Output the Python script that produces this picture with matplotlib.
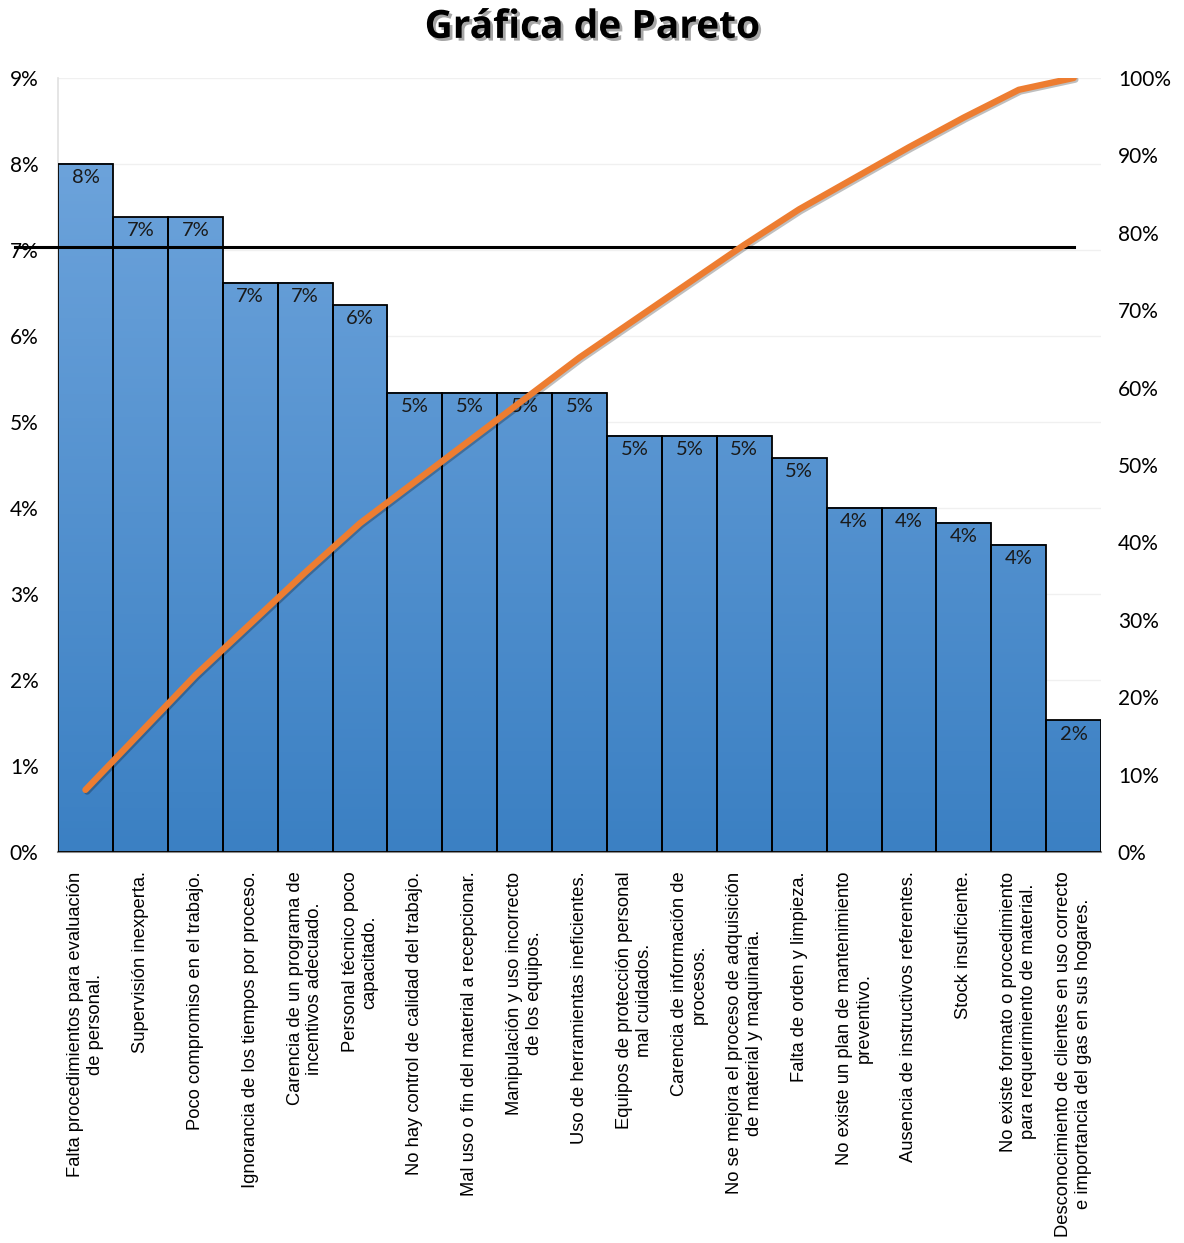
"""Pareto chart of causes (Gráfica de Pareto)."""

import matplotlib

matplotlib.use("Agg")
import matplotlib.pyplot as plt
import matplotlib.patheffects as pe
import numpy as np
from matplotlib.colors import LinearSegmentedColormap
from matplotlib.ticker import FuncFormatter, MultipleLocator

causes = [
    "Falta procedimientos para evaluación\nde personal.",
    "Supervisión inexperta.",
    "Poco compromiso en el trabajo.",
    "Ignorancia de los tiempos por proceso.",
    "Carencia de un programa de\nincentivos adecuado.",
    "Personal técnico poco\ncapacitado.",
    "No hay control de calidad del trabajo.",
    "Mal uso o fin del material a recepcionar.",
    "Manipulación y uso incorrecto\nde los equipos.",
    "Uso de herramientas ineficientes.",
    "Equipos de protección personal\nmal cuidados.",
    "Carencia de información de\nprocesos.",
    "No se mejora el proceso de adquisición\nde material y maquinaria.",
    "Falta de orden y limpieza.",
    "No existe un plan de mantenimiento\npreventivo.",
    "Ausencia de instructivos referentes.",
    "Stock insuficiente.",
    "No existe formato o procedimiento\npara requerimiento de material.",
    "Desconocimiento de clientes en uso correcto\ne importancia del gas en sus hogares.",
]
share_pct = [8.0, 7.38, 7.38, 6.62, 6.62, 6.36, 5.34, 5.34, 5.34, 5.34,
             4.84, 4.84, 4.84, 4.58, 4.0, 4.0, 3.83, 3.57, 1.53]
threshold_pct = 7.03  # black reference line, left-axis units

share = np.asarray(share_pct)
cumulative = np.cumsum(share) / share.sum() * 100.0
x = np.arange(len(share))

NUM_FONT = "Lato"
LABEL_FONT = "Liberation Sans"

fig = plt.figure(figsize=(11.84, 12.43), dpi=100)
ax = fig.add_axes([0.049, 0.3146, 0.881, 0.6227])

# gradient-filled bars (lighter towards the top of the plot)
cmap = LinearSegmentedColormap.from_list("bar_grad", ["#3b80c3", "#72a7de"])
for xi, v in zip(x, share):
    grad = np.linspace(0, v, 200).reshape(-1, 1)
    ax.imshow(grad, extent=(xi - 0.5, xi + 0.5, 0, v), origin="lower",
              cmap=cmap, vmin=0, vmax=9, aspect="auto", zorder=2)
ax.bar(x, share, width=1.0, fill=False, edgecolor="black", linewidth=1.3, zorder=3)

for xi, v in zip(x, share):
    ax.text(xi, v - 0.06, f"{v:.0f}%", ha="center", va="top", fontsize=14.5,
            family=NUM_FONT, color="#1a1a1a", zorder=4)

ax.set_xlim(-0.5, len(share) - 0.5)
ax.set_ylim(0, 9)
ax.yaxis.set_major_locator(MultipleLocator(1))
ax.yaxis.set_major_formatter(FuncFormatter(lambda v, _: f"{v:.0f}%"))
ax.grid(axis="y", color="#f0f0f0", linewidth=1.0, zorder=0)
ax.set_axisbelow(True)
ax.tick_params(axis="y", length=0, pad=14, labelsize=15)
for lbl in ax.get_yticklabels():
    lbl.set_family(NUM_FONT)
ax.set_xticks(x)
ax.set_xticklabels(causes, rotation=90, ha="center", va="top",
                   family=LABEL_FONT, fontsize=13.2)
for lbl in ax.get_xticklabels():
    lbl.set_multialignment("center")
ax.tick_params(axis="x", length=0, pad=14)
for side in ("top", "right"):
    ax.spines[side].set_visible(False)
ax.spines["left"].set_color("#e0e0e0")
ax.spines["left"].set_linewidth(1.2)
ax.spines["bottom"].set_color("#8c8c8c")
ax.spines["bottom"].set_linewidth(1.5)

# black reference line, extends past the left spine over the tick labels
ax.plot([-0.5 - 43 / 54.9, x[-1]], [threshold_pct, threshold_pct],
        color="black", linewidth=2.2, clip_on=False, zorder=5)

ax2 = ax.twinx()
ax2.set_ylim(0, 100)
ax2.yaxis.set_major_locator(MultipleLocator(10))
ax2.yaxis.set_major_formatter(FuncFormatter(lambda v, _: f"{v:.0f}%"))
ax2.tick_params(axis="y", length=0, pad=12, labelsize=15)
for lbl in ax2.get_yticklabels():
    lbl.set_family(NUM_FONT)
for side in ax2.spines.values():
    side.set_visible(False)
ax2.plot(x, cumulative, color="#ed7d31", linewidth=4.6, solid_capstyle="round",
         solid_joinstyle="round", zorder=6,
         path_effects=[pe.SimpleLineShadow(offset=(1.2, -1.2), alpha=0.25),
                       pe.Normal()])

fig.text(0.5, 0.978, "Gráfica de Pareto", ha="center", va="center",
         fontsize=28, fontweight="bold", family="Open Sans",
         path_effects=[pe.withSimplePatchShadow(offset=(2, -2), alpha=0.35)])

fig.savefig("out.png", dpi=100)
